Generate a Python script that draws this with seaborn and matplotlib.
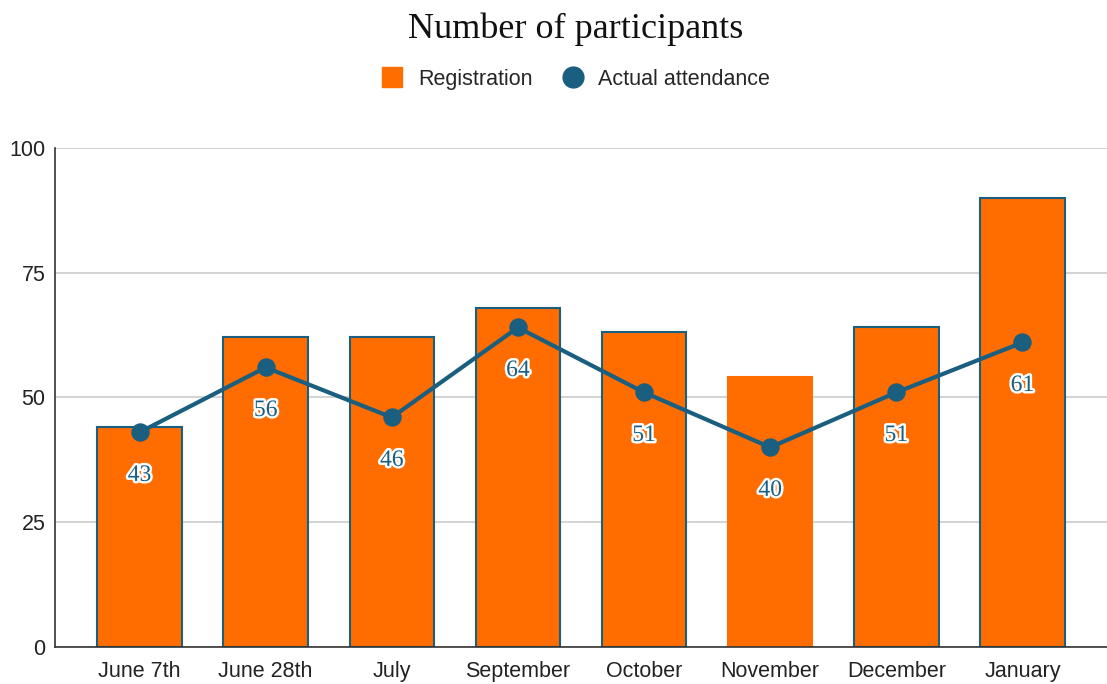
import matplotlib
matplotlib.use("Agg")
import matplotlib.pyplot as plt
import matplotlib.patheffects as pe
from matplotlib.lines import Line2D
import pandas as pd
import seaborn as sns

# data
months = ["June 7th", "June 28th", "July", "September", "October",
          "November", "December", "January"]
registration = [44, 62, 62, 68, 63, 54, 64, 90]
attendance = [43, 56, 46, 64, 51, 40, 51, 61]

orange = "#FF6D00"
blue = "#1A5E80"

sns.set_theme(style="white")
plt.rcParams["font.family"] = ["Liberation Sans", "DejaVu Sans"]

df = pd.DataFrame({"month": months, "registration": registration,
                   "attendance": attendance})

fig = plt.figure(figsize=(11.07, 6.84), dpi=100)
ax = fig.add_axes([0.0497, 0.054, 0.9503, 0.730])

sns.barplot(data=df, x="month", y="registration", color=orange,
            width=0.67, saturation=1, edgecolor=blue, linewidth=1.5, ax=ax)
# November bar has no outline in the original
ax.patches[5].set_edgecolor(orange)

sns.pointplot(data=df, x="month", y="attendance", color=blue,
              markers="o", markersize=11, linewidth=3, ax=ax)

for i, v in enumerate(attendance):
    ax.annotate(str(v), (i, v), xytext=(0, -31), textcoords="offset points",
                ha="center", va="center", fontsize=17, color=blue,
                family="Liberation Serif",
                path_effects=[pe.withStroke(linewidth=3.5, foreground="white")])

ax.set_ylim(0, 100)
ax.set_xlim(-0.67, 7.67)
ax.set_yticks([0, 25, 50, 75, 100])
ax.yaxis.grid(True, color="#CCCCCC", linewidth=1.2)
ax.set_axisbelow(True)
ax.set_xlabel("")
ax.set_ylabel("")
ax.tick_params(axis="both", labelsize=15.5, colors="#222222", length=0)
ax.tick_params(axis="y", pad=7)
ax.tick_params(axis="x", pad=10)
for s in ["top", "right"]:
    ax.spines[s].set_visible(False)
for s in ["left", "bottom"]:
    ax.spines[s].set_color("#333333")
    ax.spines[s].set_linewidth(1.2)

fig.text(0.52, 0.957, "Number of participants", ha="center", va="center",
         fontsize=26, family="Liberation Serif", color="#111111")

handles = [
    Line2D([0], [0], marker="s", linestyle="", markersize=15,
           markerfacecolor=orange, markeredgecolor=orange),
    Line2D([0], [0], marker="o", linestyle="", markersize=15,
           markerfacecolor=blue, markeredgecolor=blue),
]
fig.legend(handles, ["Registration", "Actual attendance"], loc="center",
           bbox_to_anchor=(0.5155, 0.884), ncol=2, frameon=False,
           fontsize=15.5, handletextpad=0.2, columnspacing=0.85)

fig.savefig("out.png", dpi=100)
